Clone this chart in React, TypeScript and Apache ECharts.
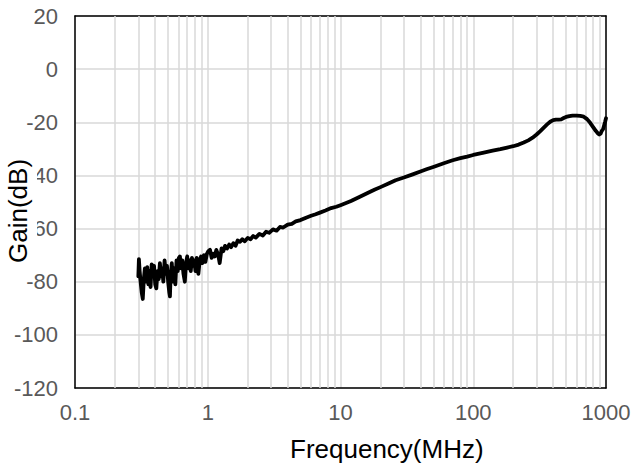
import React, { useEffect, useRef } from "react";
import * as echarts from "echarts";

const freqMHz: number[] = [
  0.300, 0.303, 0.307, 0.312, 0.318, 0.324, 0.330, 0.336, 0.343, 0.350,
  0.357, 0.364, 0.371, 0.378, 0.386, 0.394, 0.402, 0.410, 0.418, 0.427,
  0.436, 0.445, 0.454, 0.463, 0.473, 0.483, 0.493, 0.503, 0.513, 0.519,
  0.525, 0.536, 0.547, 0.558, 0.570, 0.582, 0.594, 0.606, 0.617, 0.630,
  0.643, 0.656, 0.672, 0.686, 0.700, 0.715, 0.730, 0.745, 0.760, 0.776,
  0.792, 0.808, 0.825, 0.850, 0.870, 0.890, 0.910, 0.935, 0.960, 0.985,
  1.01, 1.04, 1.07, 1.10, 1.13, 1.16, 1.20, 1.23, 1.27, 1.31,
  1.35, 1.40, 1.45, 1.50, 1.56, 1.62, 1.68, 1.75, 1.82, 1.90,
  2.0, 2.1, 2.2, 2.3, 2.45, 2.6, 2.75, 2.9, 3.1, 3.3,
  3.5, 3.7, 4.0, 4.3, 4.6, 5.0, 5.5, 6.0, 6.5, 7.0,
  7.7, 8.5, 9.3, 10, 12, 14, 16, 18, 20, 23,
  26, 30, 35, 40, 45, 50, 60, 70, 80, 90,
  100, 120, 140, 160, 180, 200, 220, 240, 260, 280,
  300, 320, 340, 360, 380, 400, 420, 440, 460, 480,
  500, 530, 560, 600, 640, 680, 720, 760, 800, 840,
  870, 890, 910, 930, 950, 970, 985, 1000,
];

const gainDb: number[] = [
  -78, -71.5, -76, -80, -84, -86.5, -79, -75, -80, -74.5,
  -81, -76, -82, -73.5, -78, -74, -81, -82.5, -76, -79,
  -73, -78, -75, -80, -72, -77, -74, -80, -84, -85.5,
  -78, -73, -80, -75, -81, -72, -76, -71, -70.5, -75,
  -72, -77, -80, -73, -70.5, -75, -72, -76, -71, -74,
  -72, -76, -71, -77, -72, -70.5, -73, -70, -72.5, -69.5,
  -68.5, -68, -71, -69.5, -70.5, -68, -70, -73, -67.5, -68.5,
  -66.5, -67.5, -66, -67, -65.5, -66.5, -64.5, -65, -64, -64.8,
  -63.5, -64, -62.8, -63.4, -62, -62.6, -61.2, -61.6, -60.3, -60.8,
  -59.4, -59.6, -58.5, -58.2, -57.3, -56.8, -55.9, -55.2, -54.6, -54.0,
  -53.2, -52.3, -51.8, -51.2, -49.6, -48.0, -46.6, -45.4, -44.4, -43.0,
  -41.8, -40.8, -39.6, -38.5, -37.6, -36.8, -35.4, -34.3, -33.5, -32.9,
  -32.3, -31.4, -30.7, -30.1, -29.5, -29.0, -28.4, -27.6, -26.8, -25.8,
  -24.6, -23.3, -22.0, -20.8, -19.8, -19.2, -19.0, -19.0, -18.9, -18.4,
  -18.0, -17.7, -17.5, -17.5, -17.6, -17.9, -18.8, -20.2, -21.8, -23.3,
  -24.2, -24.6, -24.3, -23.2, -22.6, -21.0, -19.8, -18.5,
];

const minorGridFreqs: number[] = [
  0.2, 0.3, 0.4, 0.5, 0.6, 0.7, 0.8, 0.9,
  2, 3, 4, 5, 6, 7, 8, 9,
  20, 30, 40, 50, 60, 70, 80, 90,
  200, 300, 400, 500, 600, 700, 800, 900,
];

const xMin = 0.1;
const xMax = 1000;
const yMin = -120;
const yMax = 20;
const yStep = 20;

const xTitle = "Frequency(MHz)";
const yTitle = "Gain(dB)";

const FONT = "'Liberation Sans', Arial, sans-serif";

export default function App() {
  const ref = useRef<HTMLDivElement>(null);

  useEffect(() => {
    document.body.style.margin = "0";
    if (!ref.current) return;
    const chart = echarts.init(ref.current, undefined, { renderer: "svg" });
    const fmt = (v: number) => String(Number(Number(v).toPrecision(6)));
    chart.setOption({
      animation: false,
      backgroundColor: "#ffffff",
      grid: { left: 75, top: 16, right: 28, bottom: 80, containLabel: false },
      xAxis: [
        {
          type: "log",
          logBase: 10,
          min: xMin,
          max: xMax,
          axisLine: { show: true, onZero: false, lineStyle: { color: "#000", width: 1.5 } },
          axisTick: { show: false },
          axisLabel: {
            color: "#595959",
            fontSize: 22,
            fontFamily: FONT,
            margin: 13,
            formatter: fmt,
          },
          splitLine: { show: true, lineStyle: { color: "#d9d9d9", width: 1.5 } },
        },
        {
          type: "log",
          logBase: 10,
          position: "top",
          min: xMin,
          max: xMax,
          axisLine: { show: true, onZero: false, lineStyle: { color: "#000", width: 1.5 } },
          axisTick: { show: false },
          axisLabel: { show: false },
          splitLine: { show: false },
        },
      ],
      yAxis: [
        {
          type: "value",
          min: yMin,
          max: yMax,
          interval: yStep,
          axisLine: { show: true, onZero: false, lineStyle: { color: "#000", width: 1.5 } },
          axisTick: { show: false },
          axisLabel: {
            color: "#595959",
            fontSize: 22,
            fontFamily: FONT,
            margin: 17,
          },
          splitLine: { show: true, lineStyle: { color: "#d9d9d9", width: 1.5 } },
        },
        {
          type: "value",
          position: "right",
          min: yMin,
          max: yMax,
          interval: yStep,
          axisLine: { show: true, onZero: false, lineStyle: { color: "#000", width: 1.5 } },
          axisTick: { show: false },
          axisLabel: { show: false },
          splitLine: { show: false },
        },
      ],
      series: [
        {
          type: "line",
          xAxisIndex: 0,
          yAxisIndex: 0,
          data: freqMHz.map((f, i) => [f, gainDb[i]]),
          showSymbol: false,
          symbol: "none",
          z: 3,
          lineStyle: { color: "#000", width: 3.8, join: "round", cap: "round" },
          markLine: {
            silent: true,
            z: 1,
            symbol: "none",
            label: { show: false },
            lineStyle: { color: "#d9d9d9", width: 1.5, type: "solid" },
            data: minorGridFreqs.map((f) => ({ xAxis: f })),
          },
        },
      ],
      graphic: [
        {
          type: "text",
          left: 387 - 97,
          top: 436,
          z: 10,
          style: {
            text: xTitle,
            fontSize: 26,
            fontFamily: FONT,
            fill: "#000",
          },
        },
        {
          type: "text",
          x: 4,
          y: 265,
          rotation: Math.PI / 2,
          z: 10,
          style: {
            text: yTitle,
            fontSize: 26,
            fontFamily: FONT,
            fill: "#000",
            backgroundColor: "#ffffff",
            padding: [0, 2, 5, 2],
            lineHeight: 28,
          },
        },
      ],
    });
    return () => chart.dispose();
  }, []);

  return <div ref={ref} style={{ width: 634, height: 468 }} />;
}
